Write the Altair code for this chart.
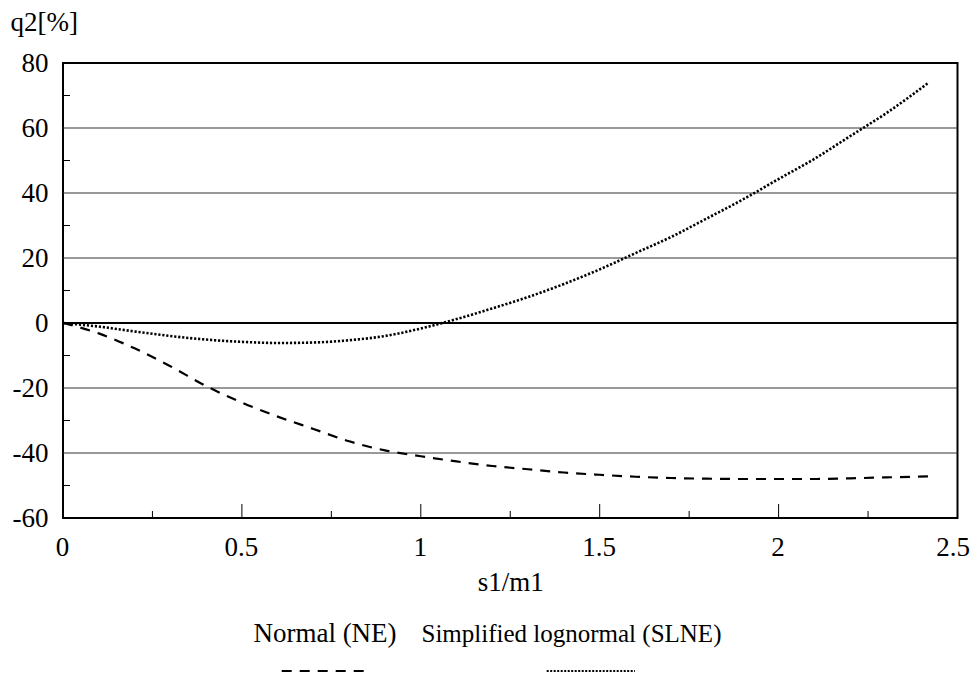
import altair as alt
import pandas as pd

# ---- data ----
x_vals = [0, 0.1, 0.2, 0.3, 0.4, 0.5, 0.6, 0.7, 0.8, 0.9, 1.0, 1.1, 1.2,
          1.3, 1.4, 1.5, 1.6, 1.7, 1.8, 1.9, 2.0, 2.1, 2.2, 2.3, 2.42]
ne_vals = [0, -3.2, -7.8, -13.3, -19.4, -24.5, -28.8, -32.6, -36.4, -39.2,
           -41.0, -42.6, -44.0, -45.0, -46.0, -46.7, -47.3, -47.7, -47.9,
           -48.0, -48.0, -48.0, -47.8, -47.5, -47.2]
slne_vals = [0, -1.1, -2.6, -4.0, -5.1, -5.8, -6.15, -6.0, -5.3, -4.0, -1.7,
             1.2, 4.5, 8.0, 12.0, 16.5, 21.5, 26.5, 32.2, 38.0, 44.3, 50.5,
             57.5, 64.5, 74.0]
series_names = ["Normal (NE)", "Simplified lognormal (SLNE)"]

y_ticks = [-60, -40, -20, 0, 20, 40, 60, 80]
y_grid = [-40, -20, 20, 40, 60]
y_minor = [-50, -30, -10, 10, 30, 50, 70]
x_ticks = [0, 0.5, 1, 1.5, 2, 2.5]
x_major_marks = [0.5, 1, 1.5, 2]
x_minor_marks = [0.25, 0.75, 1.25, 1.75, 2.25]

FONT = "Liberation Serif, DejaVu Serif, Times New Roman, serif"
FS = 27
W, H = 894.5, 455

ne_df = pd.DataFrame({"x": x_vals, "y": ne_vals})
sl_df = pd.DataFrame({"x": x_vals, "y": slne_vals})

x_scale = alt.Scale(domain=[0, 2.5], nice=False, zero=False)
y_scale = alt.Scale(domain=[-60, 80], nice=False, zero=False)

x_axis = alt.Axis(values=x_ticks, labelExpr="'' + datum.value", title="s1/m1",
                  labelPadding=16, labelFlush=False, titleY=72,
                  labelOffset={"condition": {"test": "datum.value === 2.5", "value": -5},
                               "value": -1},
                  titleBaseline="alphabetic", titlePadding=0)
y_axis = alt.Axis(values=y_ticks, labelExpr="'' + datum.value", title="q2[%]",
                  labelPadding=15, labelFlush=False, titleAngle=0,
                  titleAlign="left", titleX=-53, titleY=-33,
                  titleBaseline="alphabetic")

X = alt.X("x:Q", scale=x_scale, axis=x_axis)
Y = alt.Y("y:Q", scale=y_scale, axis=y_axis)

grid = alt.Chart(pd.DataFrame({"y": y_grid})).mark_rule(
    color="#333333", strokeWidth=1).encode(y=Y)
zero = alt.Chart(pd.DataFrame({"y": [0]})).mark_rule(
    color="black", strokeWidth=2).encode(y=Y)

ymin = alt.Chart(pd.DataFrame({"y": y_minor})).mark_rule(
    color="black", strokeWidth=1).encode(y=Y, x=alt.value(0), x2=alt.value(7))
xmaj = alt.Chart(pd.DataFrame({"x": x_major_marks})).mark_rule(
    color="black", strokeWidth=1).encode(x=X, y=alt.value(H), y2=alt.value(H - 14))
xmin = alt.Chart(pd.DataFrame({"x": x_minor_marks})).mark_rule(
    color="black", strokeWidth=1).encode(x=X, y=alt.value(H), y2=alt.value(H - 7))

ne_line = alt.Chart(ne_df).mark_line(
    color="black", strokeWidth=2.2, strokeDash=[10, 8], interpolate="monotone"
).encode(x=X, y=Y)
sl_line = alt.Chart(sl_df).mark_line(
    color="black", strokeWidth=2.6, strokeDash=[2.2, 1.8], interpolate="monotone"
).encode(x=X, y=Y)

one = pd.DataFrame({"k": [0]})
leg_t1 = alt.Chart(one).mark_text(
    text=series_names[0], font=FONT, fontSize=FS, align="center",
    baseline="alphabetic", color="black").encode(x=alt.value(262), y=alt.value(579))
leg_t2 = alt.Chart(one).mark_text(
    text=series_names[1], font=FONT, fontSize=25, align="left",
    baseline="alphabetic", color="black").encode(x=alt.value(358.5), y=alt.value(579))
leg_s1 = alt.Chart(one).mark_rule(
    color="black", strokeWidth=2.2, strokeDash=[10, 8]).encode(
    x=alt.value(218.7), x2=alt.value(301), y=alt.value(608))
leg_s2 = alt.Chart(one).mark_rule(
    color="black", strokeWidth=2, strokeDash=[2, 1.5]).encode(
    x=alt.value(483.7), x2=alt.value(572), y=alt.value(608))

chart = alt.layer(
    grid, zero, ymin, xmaj, xmin, ne_line, sl_line,
    leg_t1, leg_t2, leg_s1, leg_s2
).properties(
    width=W, height=H,
    background="white",
    autosize=alt.AutoSizeParams(type="none"),
    padding={"left": 55, "top": 55, "right": 12, "bottom": 158},
).configure_view(
    stroke="black", strokeWidth=2
).configure_axis(
    labelFont=FONT, labelFontSize=FS, labelColor="black",
    titleFont=FONT, titleFontSize=FS, titleColor="black", titleFontWeight="normal",
    ticks=False, domain=False, grid=False
)

chart.save("out.html", embed_options={"renderer": "svg", "actions": False})
